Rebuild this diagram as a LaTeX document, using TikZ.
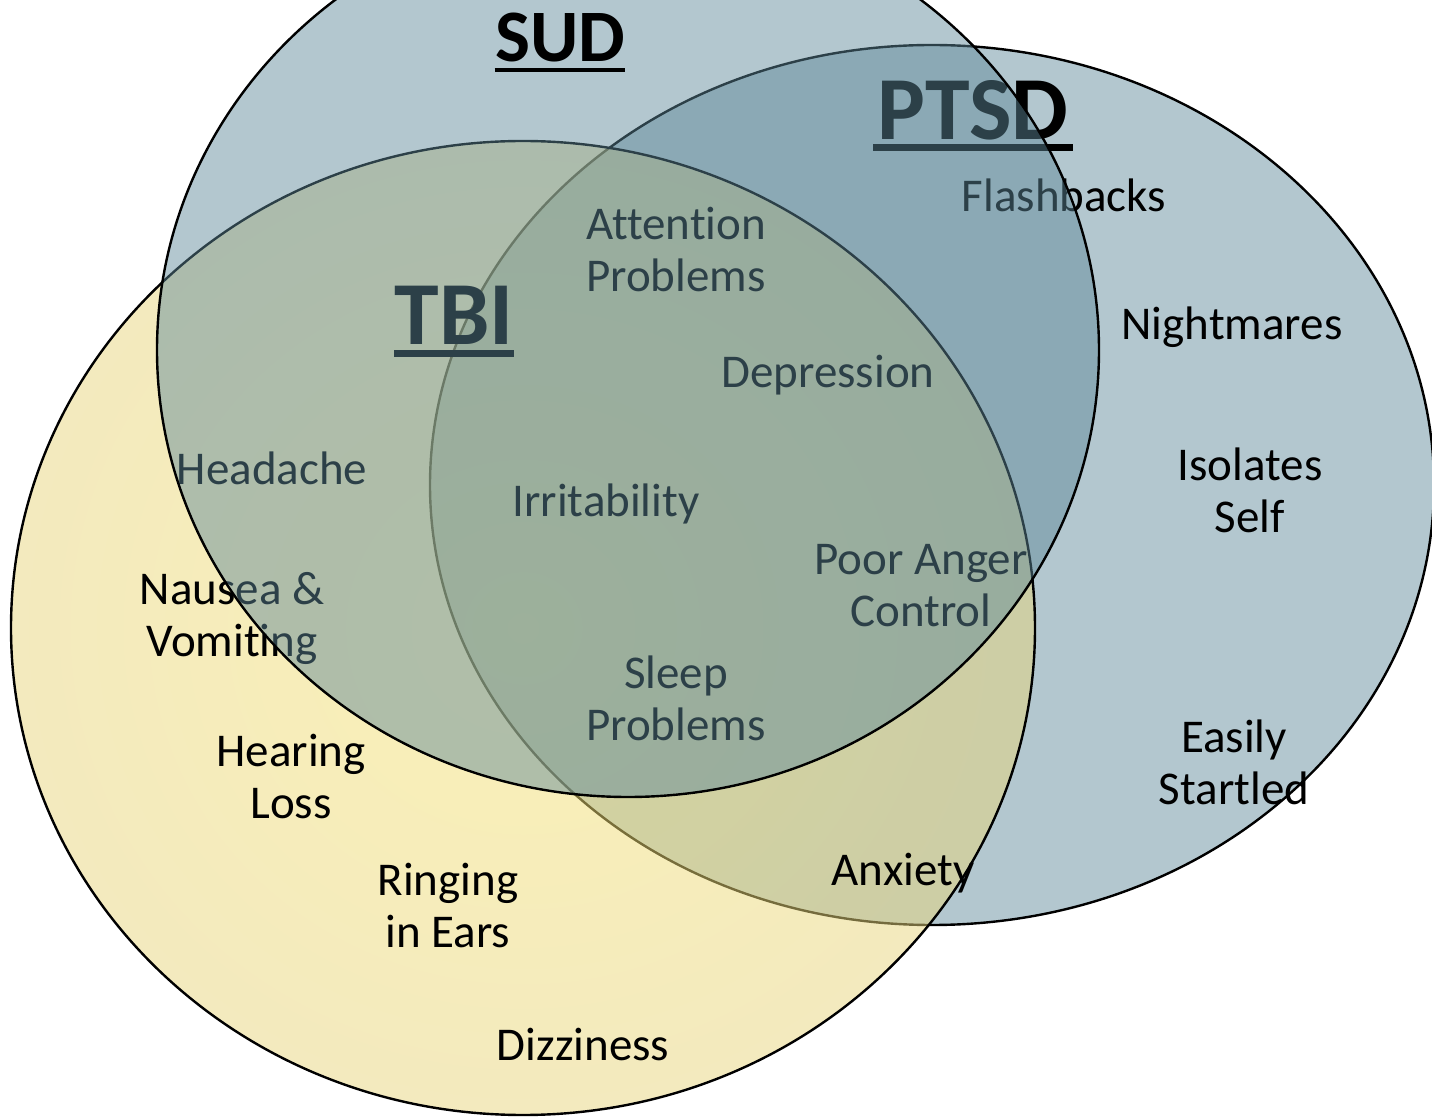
\documentclass[tikz,border=0pt]{standalone}
\usepackage{fontspec}
\setmainfont{Carlito}[Ligatures=NoCommon]
\definecolor{setblue}{RGB}{94,136,153}
\definecolor{tbiyellow}{RGB}{231,213,125}
\definecolor{tbiglow}{RGB}{247,226,110}

\begin{document}
\begin{tikzpicture}[%
    x=0.5pt, y=-0.5pt,
    outline/.style={draw=black, line width=1.2pt},
    blueset/.style={outline, fill=setblue, fill opacity=0.47},
    symptom/.style={font=\fontsize{23.5}{26}\selectfont, align=center, inner sep=0pt},
    title/.style={font=\fontsize{37}{40}\bfseries\selectfont, inner sep=0pt, anchor=base},
    bigtitle/.style={font=\fontsize{45}{48}\bfseries\selectfont, inner sep=0pt, anchor=base},
    titleline/.style={line width=#1}
  ]
    \useasboundingbox (0,0) rectangle (1432,1117);
    \clip (0,0) rectangle (1432,1117);

    \path[blueset] (932,485) ellipse [x radius=502, y radius=440];
    \path[inner color=tbiglow, outer color=tbiyellow, fill opacity=0.5, shading=radial]
      (523,628) ellipse [x radius=512, y radius=487];
    \path[outline] (523,628) ellipse [x radius=512, y radius=487];

    \node[bigtitle] (ptsd) at (973,140) {PTSD};
    \draw[titleline=3.5pt] ([yshift=-4pt,xshift=-2pt]ptsd.base west) -- ([yshift=-4pt,xshift=2pt]ptsd.base east);
    \node[bigtitle] (tbi) at (454,345) {TBI};
    \draw[titleline=3.5pt] ([yshift=-4.5pt]tbi.base west) -- ([yshift=-4.5pt]tbi.base east);

    \node[symptom, anchor=base] (flash) at (1064,212) {Flashbacks};
    \node[symptom] (attn) at (676,250) {Attention\\Problems};
    \node[symptom, anchor=base] (night) at (1232,340) {Nightmares};
    \node[symptom, anchor=base] (depr) at (828,388) {Depression};
    \node[symptom] (isol) at (1250,490) {Isolates\\Self};
    \node[symptom, anchor=base] (head) at (272,485) {Headache};
    \node[symptom, anchor=base] (irrit) at (606,517) {Irritability};
    \node[symptom] (anger) at (921,586) {Poor Anger\\Control};
    \node[symptom] (nausea) at (232,618) {Nausea \&\\Vomiting};
    \node[symptom] (sleep) at (676,698) {Sleep\\Problems};
    \node[symptom] (start) at (1234,762) {Easily\\Startled};
    \node[symptom] (hear) at (291,777) {Hearing\\Loss};
    \node[symptom, anchor=base] (anx) at (903,885) {Anxiety};
    \node[symptom] (ring) at (448,906) {Ringing\\in Ears};
    \node[symptom, anchor=base] (dizzy) at (583,1060) {Dizziness};

    \path[blueset] (628,350) ellipse [x radius=471, y radius=447];

    \node[title] (sud) at (560,62) {SUD};
    \draw[titleline=2pt] ([yshift=-4pt]sud.base west) -- ([yshift=-4pt]sud.base east);
  \end{tikzpicture}
\end{document}
